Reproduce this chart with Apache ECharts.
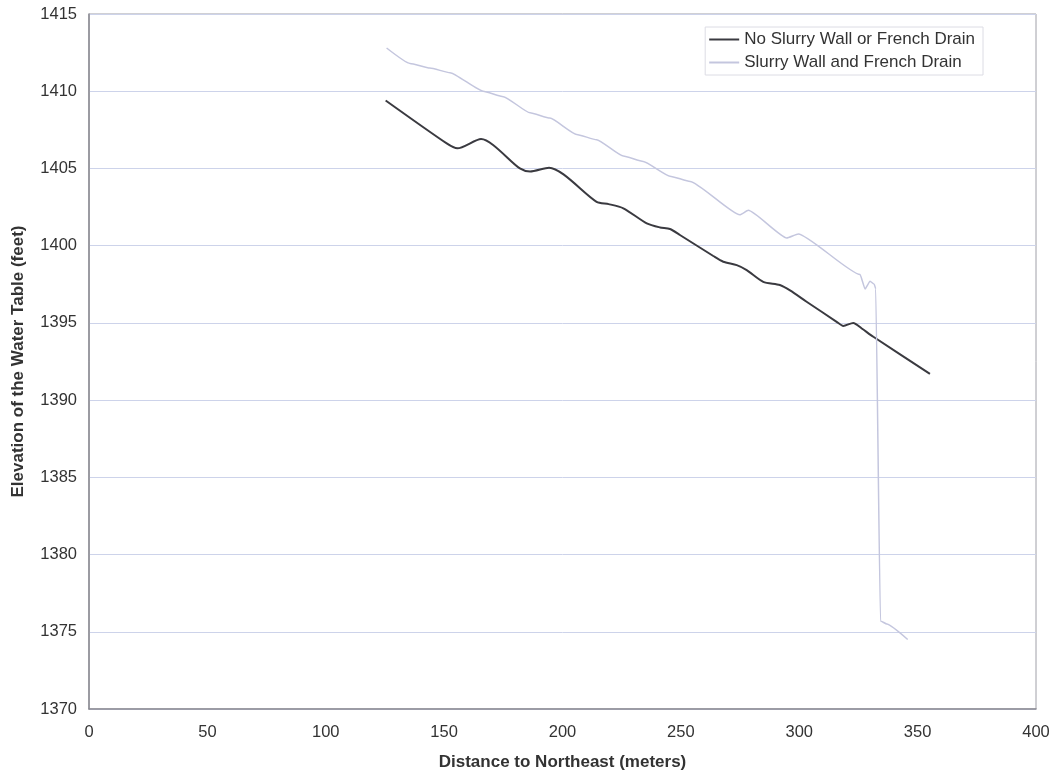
<!DOCTYPE html>
<html>
<head>
<meta charset="utf-8">
<script src="https://cdn.jsdelivr.net/npm/echarts@6/dist/echarts.min.js"></script>
<style>
html,body{margin:0;padding:0;background:#fff;}
#c{width:1057px;height:777px;}
</style>
</head>
<body>
<div id="c"></div>
<script>
// Series names
const seriesNames = ["No Slurry Wall or French Drain", "Slurry Wall and French Drain"];

// No Slurry Wall or French Drain: distance (m), elevation (ft)
const noWallX = [125.3, 151.1, 155.6, 165.6, 182.0, 186.3, 194.3, 214.4, 219.5, 225.7, 235.6, 241.2, 245.4, 249.6, 263.7, 267.9, 273.6, 277.8, 284.8, 291.8, 296.1, 303.1, 315.8, 318.6, 322.8, 326.4, 331.3, 355.2];
const noWallY = [1409.4, 1406.62, 1406.3, 1406.9, 1405.0, 1404.8, 1405.05, 1402.84, 1402.69, 1402.42, 1401.44, 1401.18, 1401.08, 1400.69, 1399.33, 1398.96, 1398.74, 1398.42, 1397.66, 1397.45, 1397.1, 1396.37, 1395.07, 1394.8, 1395.0, 1394.64, 1394.1, 1391.7];

// Slurry Wall and French Drain: distance (m), elevation (ft)
const wallX = [125.7, 135.6, 144.0, 152.5, 166.5, 175.0, 186.3, 194.7, 206.0, 214.4, 225.7, 234.1, 245.4, 253.9, 274.9, 278.5, 294.7, 299.6, 325.7, 327.8, 329.9, 331.7, 332.3, 334.3, 337.0, 345.8];
const wallY = [1412.8, 1411.8, 1411.5, 1411.2, 1410.0, 1409.65, 1408.6, 1408.26, 1407.2, 1406.86, 1405.8, 1405.45, 1404.5, 1404.16, 1402.0, 1402.29, 1400.5, 1400.76, 1398.13, 1397.2, 1397.7, 1397.5, 1397.2, 1375.7, 1375.5, 1374.5];

// Axis settings
const xMin = 0, xMax = 400, xStep = 50;
const yMin = 1370, yMax = 1415, yStep = 5;
const xTitle = "Distance to Northeast (meters)";
const yTitle = "Elevation of the Water Table (feet)";

const zip = (xs, ys) => xs.map((x, i) => [x, ys[i]]);

const chart = echarts.init(document.getElementById('c'));
const font = "'Liberation Sans', Arial, sans-serif";
chart.setOption({
  animation: false,
  backgroundColor: '#ffffff',
  grid: {left: 89, right: 21, top: 14, bottom: 68, show: true, borderColor: '#a0a0a8', borderWidth: 1, backgroundColor: 'transparent'},
  legend: {
    show: true,
    right: 74, top: 27,
    orient: 'vertical',
    itemWidth: 30, itemHeight: 2, itemGap: 6,
    padding: [4, 8, 4, 4],
    borderColor: '#dcdce4', borderWidth: 1,
    textStyle: {fontFamily: font, fontSize: 17, color: '#333'},
    icon: 'rect',
    data: seriesNames
  },
  xAxis: {
    type: 'value', min: xMin, max: xMax, interval: xStep,
    name: xTitle, nameLocation: 'middle', nameGap: 45,
    nameTextStyle: {fontFamily: font, fontSize: 17, fontWeight: 'bold', color: '#333'},
    axisLine: {show: true, lineStyle: {color: '#8a8a92', width: 1.5}},
    axisTick: {show: false},
    axisLabel: {fontFamily: font, fontSize: 16.5, color: '#333', margin: 15},
    splitLine: {show: false}
  },
  yAxis: {
    type: 'value', min: yMin, max: yMax, interval: yStep,
    name: yTitle, nameLocation: 'middle', nameGap: 62,
    nameTextStyle: {fontFamily: font, fontSize: 17, fontWeight: 'bold', color: '#333'},
    axisLine: {show: true, lineStyle: {color: '#8a8a92', width: 1.5}},
    axisTick: {show: false},
    axisLabel: {fontFamily: font, fontSize: 16.5, color: '#333', margin: 12, formatter: v => String(v)},
    splitLine: {show: true, lineStyle: {color: '#cdd3ea', width: 1}}
  },
  series: [
    {
      name: seriesNames[0], type: 'line', data: zip(noWallX, noWallY),
      showSymbol: false, smooth: 0.25,
      lineStyle: {color: '#3a3a40', width: 2},
      itemStyle: {color: '#3a3a40'}
    },
    {
      name: seriesNames[1], type: 'line', data: zip(wallX, wallY),
      showSymbol: false, smooth: 0.15, smoothMonotone: 'x',
      lineStyle: {color: '#c4c6de', width: 1.5},
      itemStyle: {color: '#c4c6de'}
    }
  ]
});
</script>
</body>
</html>
